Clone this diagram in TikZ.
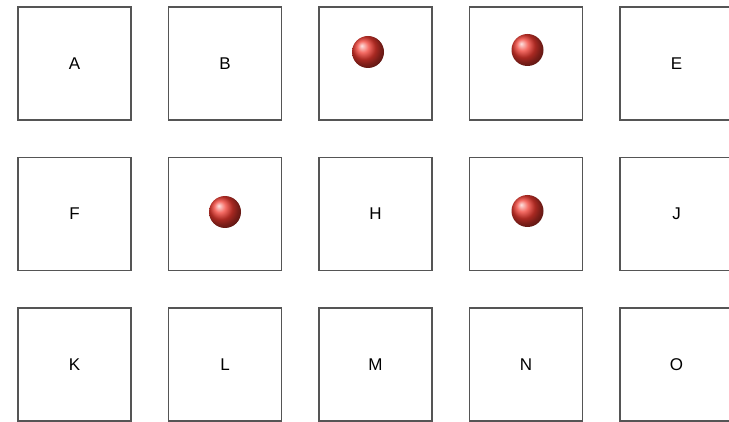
\documentclass[tikz,border=0pt]{standalone}
\usepackage{fontspec}
\setmainfont{Liberation Sans}
\usetikzlibrary{positioning}
\definecolor{cframe}{HTML}{555555}
\definecolor{cball}{HTML}{F03A30}
\tikzset{
  every picture/.style={font=\fontsize{17}{20}\selectfont, line width=1.6pt},
  cell/.style={draw=cframe, fill=white, minimum width=113pt, minimum height=113pt, inner sep=0pt, text=black!80},
  marble/.style={circle, shading=ball, ball color=cball, minimum size=32pt, inner sep=0pt},
}

\begin{document}
\begin{tikzpicture}[x=1pt, y=-1pt]
  \useasboundingbox (0,0) rectangle (729,422);
  \clip (0,0) rectangle (729,422);
  % the grid of cells
  \foreach \lbl [count=\i from 0] in {A,B,C,D,E,F,G,H,I,J,K,L,M,N,O} {
    \pgfmathtruncatemacro{\col}{mod(\i,5)}
    \pgfmathtruncatemacro{\row}{div(\i,5)}
    \node[cell] (\lbl) at (74.5+150.5*\col, 63.5+150.5*\row) {};
  }
  % letters on the empty cells
  \foreach \lbl in {A,B,E,F,H,J,K,L,M,N,O} \node at (\lbl) {\lbl};
  % marbles
  \node[marble] (mC) at ([xshift=-7.5pt, yshift=11.5pt]C.center) {};
  \node[marble] (mD) at ([xshift=1.5pt, yshift=13.5pt]D.center) {};
  \node[marble] (mG) at ([xshift=0pt, yshift=2pt]G.center) {};
  \node[marble] (mI) at ([xshift=1.5pt, yshift=3pt]I.center) {};
\end{tikzpicture}
\end{document}
